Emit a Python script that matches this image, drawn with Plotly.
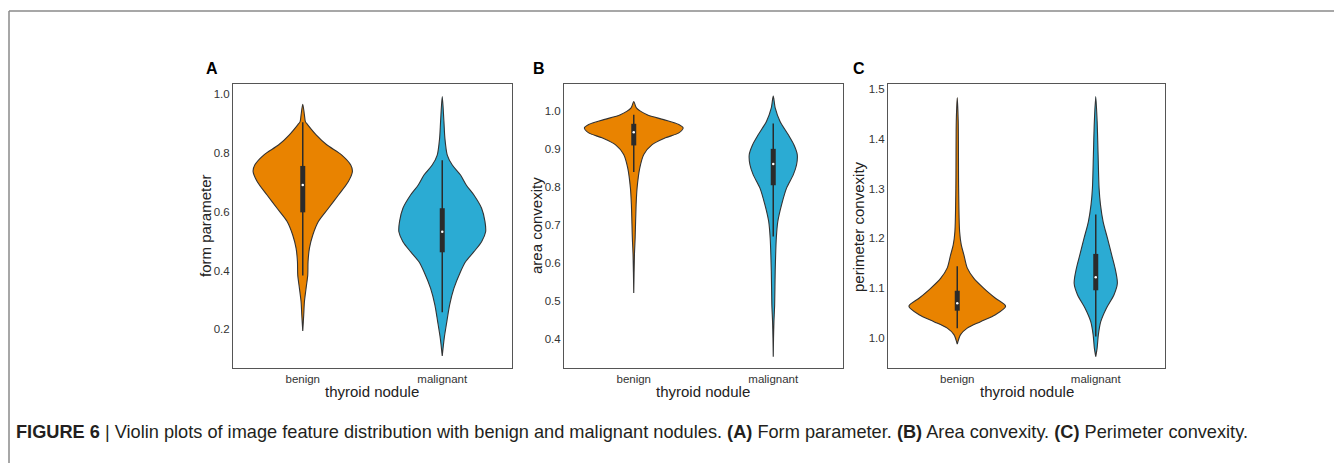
import numpy as np
import plotly.graph_objects as go

# ---------------- data ----------------
categories = ["benign", "malignant"]
panel_letters = ["A", "B", "C"]
y_titles = ["form parameter", "area convexity", "perimeter convexity"]
x_title = "thyroid nodule"

# violin outlines: value levels (y) and half-widths (in category units)
a_benign_y = [0.966, 0.93, 0.907, 0.896, 0.862, 0.828, 0.793, 0.759, 0.737, 0.703, 0.657,
              0.612, 0.567, 0.521, 0.476, 0.43, 0.385, 0.34, 0.294, 0.249, 0.194]
a_benign_w = [0, 0.012, 0.019, 0.036, 0.096, 0.172, 0.280, 0.344, 0.356, 0.327, 0.256,
              0.184, 0.112, 0.072, 0.048, 0.038, 0.036, 0.024, 0.012, 0.007, 0]
a_malig_y = [0.992, 0.907, 0.85, 0.793, 0.759, 0.725, 0.691, 0.657, 0.612, 0.567, 0.532,
             0.498, 0.464, 0.43, 0.396, 0.34, 0.283, 0.226, 0.169, 0.109]
a_malig_w = [0, 0.012, 0.019, 0.036, 0.072, 0.131, 0.172, 0.227, 0.282, 0.306, 0.311,
             0.282, 0.227, 0.167, 0.131, 0.084, 0.053, 0.033, 0.014, 0]

b_benign_y = [1.026, 1.009, 0.991, 0.978, 0.965, 0.956, 0.943, 0.93, 0.912, 0.886, 0.85,
              0.798, 0.754, 0.666, 0.622, 0.521]
b_benign_w = [0, 0.019, 0.096, 0.215, 0.323, 0.354, 0.323, 0.227, 0.132, 0.072, 0.043,
              0.024, 0.017, 0.010, 0.005, 0]
b_malig_y = [1.04, 1.009, 0.974, 0.938, 0.912, 0.886, 0.859, 0.833, 0.798, 0.754, 0.71,
             0.666, 0.578, 0.49, 0.446, 0.402, 0.353]
b_malig_w = [0, 0.014, 0.048, 0.108, 0.148, 0.172, 0.167, 0.144, 0.096, 0.060, 0.033,
             0.022, 0.014, 0.010, 0.005, 0.002, 0]

c_benign_y = [1.483, 1.435, 1.301, 1.214, 1.187, 1.167, 1.141, 1.12, 1.1, 1.08, 1.064,
              1.047, 1.033, 1.02, 1.007, 0.988]
c_benign_w = [0, 0.007, 0.010, 0.017, 0.029, 0.048, 0.072, 0.120, 0.192, 0.276, 0.349,
              0.276, 0.168, 0.072, 0.024, 0]
c_malig_y = [1.485, 1.435, 1.368, 1.301, 1.268, 1.234, 1.201, 1.167, 1.141, 1.11, 1.087,
             1.06, 1.033, 1.007, 0.98, 0.963]
c_malig_w = [0, 0.010, 0.017, 0.024, 0.034, 0.053, 0.084, 0.115, 0.139, 0.156, 0.132,
             0.077, 0.036, 0.019, 0.010, 0]

# inner boxes: [whisker low, Q1, median, Q3, whisker high]
a_benign_box = [0.383, 0.598, 0.691, 0.756, 0.905]
a_malig_box = [0.258, 0.462, 0.532, 0.612, 0.775]
b_benign_box = [0.840, 0.910, 0.945, 0.967, 0.991]
b_malig_box = [0.670, 0.805, 0.861, 0.901, 0.968]
c_benign_box = [1.020, 1.055, 1.070, 1.095, 1.144]
c_malig_box = [1.003, 1.096, 1.122, 1.169, 1.248]

y_ranges = [[0.068, 1.035], [0.323, 1.072], [0.940, 1.510]]
y_ticks = [[0.2, 0.4, 0.6, 0.8, 1.0],
           [0.4, 0.5, 0.6, 0.7, 0.8, 0.9, 1.0],
           [1.0, 1.1, 1.2, 1.3, 1.4, 1.5]]

colors = ["#E98300", "#2BABD3"]

panels = [
    [(a_benign_y, a_benign_w, a_benign_box), (a_malig_y, a_malig_w, a_malig_box)],
    [(b_benign_y, b_benign_w, b_benign_box), (b_malig_y, b_malig_w, b_malig_box)],
    [(c_benign_y, c_benign_w, c_benign_box), (c_malig_y, c_malig_w, c_malig_box)],
]

# ---------------- layout geometry (page pixels; the page body has an 8px margin) ----------------
OFF = 8
W, H = 1342 - OFF, 463 - OFF


def px(x):
    return (x - OFF) / W


def py(y):
    return 1 - (y - OFF) / H


x_domains = [[px(233), px(512)], [px(564), px(843)], [px(888), px(1165)]]
y_domain = [py(368), py(84)]

fig = go.Figure()

for i, panel in enumerate(panels):
    xa = "x" if i == 0 else f"x{i + 1}"
    ya = "y" if i == 0 else f"y{i + 1}"
    for pos, (ys, ws, box) in enumerate(panel):
        ys = np.array(ys)
        ws = np.array(ws)
        xs = np.concatenate([pos + ws, (pos - ws)[::-1]])
        yy = np.concatenate([ys, ys[::-1]])
        fig.add_trace(go.Scatter(
            x=xs, y=yy, xaxis=xa, yaxis=ya, mode="lines", fill="toself",
            fillcolor=colors[pos], line=dict(color="#333333", width=1.1, shape="spline", smoothing=0.8),
            hoverinfo="skip", showlegend=False))
        wlo, q1, med, q3, whi = box
        fig.add_trace(go.Scatter(
            x=[pos, pos], y=[wlo, whi], xaxis=xa, yaxis=ya, mode="lines",
            line=dict(color="#2b2b2b", width=1.5), hoverinfo="skip", showlegend=False))
        fig.add_trace(go.Scatter(
            x=[pos, pos], y=[q1, q3], xaxis=xa, yaxis=ya, mode="lines",
            line=dict(color="#2b2b2b", width=5), hoverinfo="skip", showlegend=False))
        fig.add_trace(go.Scatter(
            x=[pos], y=[med], xaxis=xa, yaxis=ya, mode="markers",
            marker=dict(color="white", size=2.5), hoverinfo="skip", showlegend=False))

axis_common = dict(showline=True, linecolor="#555555", linewidth=1, mirror=True,
                   showgrid=False, zeroline=False, ticks="",
                   tickfont=dict(family="Liberation Sans, Arial", size=11.5, color="#333333"))

layout = dict(
    width=W, height=H, margin=dict(l=0, r=0, t=0, b=0),
    paper_bgcolor="white", plot_bgcolor="white", showlegend=False,
)
for i in range(3):
    sx = "xaxis" if i == 0 else f"xaxis{i + 1}"
    sy = "yaxis" if i == 0 else f"yaxis{i + 1}"
    anchor_y = "y" if i == 0 else f"y{i + 1}"
    anchor_x = "x" if i == 0 else f"x{i + 1}"
    layout[sx] = dict(domain=x_domains[i], anchor=anchor_y, range=[-0.5, 1.5],
                      tickvals=[0, 1], ticktext=categories, **axis_common)
    layout[sy] = dict(domain=y_domain, anchor=anchor_x, range=y_ranges[i],
                      tickvals=y_ticks[i], ticktext=[f"{t:.1f}" for t in y_ticks[i]],
                      **axis_common)
fig.update_layout(**layout)

ann = []
letter_x = [212, 539, 859]
ytitle_x = [205, 536, 858]
for i in range(3):
    ann.append(dict(text=f"<b>{panel_letters[i]}</b>", x=px(letter_x[i]), y=py(69),
                    xref="paper", yref="paper", showarrow=False, xanchor="center", yanchor="middle",
                    font=dict(family="Liberation Sans, Arial", size=16, color="black")))
    ann.append(dict(text=y_titles[i], x=px(ytitle_x[i]), y=py(226), textangle=-90,
                    xref="paper", yref="paper", showarrow=False, xanchor="center", yanchor="middle",
                    font=dict(family="Liberation Sans, Arial", size=15, color="#222222")))
    ann.append(dict(text=x_title, x=sum(x_domains[i]) / 2, y=py(391),
                    xref="paper", yref="paper", showarrow=False, xanchor="center", yanchor="middle",
                    font=dict(family="Liberation Sans, Arial", size=15, color="#222222")))

caption = ("<b>FIGURE 6</b> | Violin plots of image feature distribution with benign and malignant "
           "nodules. <b>(A)</b> Form parameter. <b>(B)</b> Area convexity. <b>(C)</b> Perimeter convexity.")
ann.append(dict(text=caption, x=px(14), y=py(432), xref="paper", yref="paper",
                showarrow=False, xanchor="left", yanchor="middle",
                font=dict(family="Liberation Sans, Arial", size=18.2, color="#231f20")))
fig.update_layout(annotations=ann)

# outer frame lines (top and left)
fig.add_shape(type="line", xref="paper", yref="paper", x0=px(9), x1=1, y0=py(11), y1=py(11),
              line=dict(color="#8a8a8a", width=1.5))
fig.add_shape(type="line", xref="paper", yref="paper", x0=px(9), x1=px(9), y0=0, y1=py(11),
              line=dict(color="#8a8a8a", width=1.5))

fig.write_html("out.html")
